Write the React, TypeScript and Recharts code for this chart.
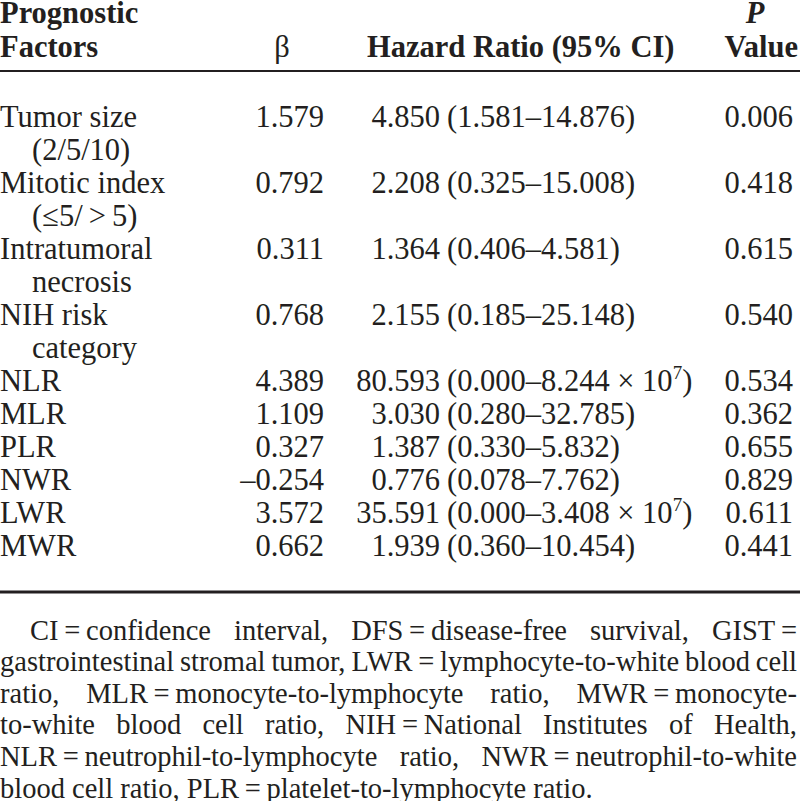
import React from 'react';
import { ScatterChart, Scatter, XAxis, YAxis, ReferenceLine, Customized } from 'recharts';

// ---------- table content ----------
const factorNames = ['Tumor size', 'Mitotic index', 'Intratumoral', 'NIH risk', 'NLR', 'MLR', 'PLR', 'NWR', 'LWR', 'MWR'];
const factorSubLines = ['(2/5/10)', '(\u22645/\u2009>\u20095)', 'necrosis', 'category', '', '', '', '', '', ''];
const betaValues = [1.579, 0.792, 0.311, 0.768, 4.389, 1.109, 0.327, -0.254, 3.572, 0.662];
const hazardRatios = [4.85, 2.208, 1.364, 2.155, 80.593, 3.03, 1.387, 0.776, 35.591, 1.939];
const ciLower = [1.581, 0.325, 0.406, 0.185, 0.0, 0.28, 0.33, 0.078, 0.0, 0.36];
const ciUpper = [14.876, 15.008, 4.581, 25.148, 8.244, 32.785, 5.832, 7.762, 3.408, 10.454];
const ciUpperExponent = [0, 0, 0, 0, 7, 0, 0, 0, 7, 0];
const pValues = [0.006, 0.418, 0.615, 0.54, 0.534, 0.362, 0.655, 0.829, 0.611, 0.441];

const headerFactor = ['Prognostic', 'Factors'];
const headerBeta = '\u03b2';
const headerHR = 'Hazard Ratio (95% CI)';
const headerP = ['P', 'Value'];

const footnoteLines = [
  'CI\u2009=\u2009confidence interval, DFS\u2009=\u2009disease-free survival, GIST\u2009=',
  'gastrointestinal stromal tumor, LWR\u2009=\u2009lymphocyte-to-white blood cell',
  'ratio, MLR\u2009=\u2009monocyte-to-lymphocyte ratio, MWR\u2009=\u2009monocyte-',
  'to-white blood cell ratio, NIH\u2009=\u2009National Institutes of Health,',
  'NLR\u2009=\u2009neutrophil-to-lymphocyte ratio, NWR\u2009=\u2009neutrophil-to-white',
  'blood cell ratio, PLR\u2009=\u2009platelet-to-lymphocyte ratio.',
];

// ---------- layout / style ----------
const W = 800;
const H = 801;
const FONT = "'Liberation Serif', 'Times New Roman', Times, serif";
const INK = '#231f20';
const BODY_SIZE = 30.5;
const FOOT_SIZE = 28.5;
const BODY_TOP = 127; // baseline of first body line (px)
const PITCH = 33; // body line pitch (px)
const COL = { indent: 32, beta: 324, hr: 440, ci: 447, p: 793 };
const HEAD = { line1: 23, line2: 57, betaX: 282, hrX: 367, pX: 755, valueX: 798 };
const RULE_TOP = 71;
const RULE_BOTTOM = 592;
const FOOT = { first: 639.5, pitch: 31.6, indent: 30, right: 797 };

const toLine = (px: number) => (px - BODY_TOP) / PITCH;

const fmt = (v: number) => (v < 0 ? '\u2013' + Math.abs(v).toFixed(3) : v.toFixed(3));

// build table rows (line index = position on the y axis, in text lines)
const rows: any[] = [];
const subRows: any[] = [];
{
  let line = 0;
  factorNames.forEach((name, i) => {
    rows.push({
      x: 0,
      y: line,
      factor: name,
      beta: fmt(betaValues[i]),
      hr: fmt(hazardRatios[i]),
      lo: fmt(ciLower[i]),
      hi: fmt(ciUpper[i]),
      exp: ciUpperExponent[i],
      p: fmt(pValues[i]),
    });
    if (factorSubLines[i]) {
      subRows.push({ x: 0, y: line + 1, text: factorSubLines[i] });
      line += 2;
    } else {
      line += 1;
    }
  });
}

let ctx: CanvasRenderingContext2D | null = null;
function measure(text: string, font: string) {
  if (!ctx) ctx = document.createElement('canvas').getContext('2d');
  if (!ctx) return text.length * 12;
  ctx.font = font;
  return ctx.measureText(text).width;
}

const textProps = {
  fontFamily: FONT,
  fill: INK,
};

const RowShape = (props: any) => {
  const { cx, cy, payload } = props;
  return (
    <g>
      <text {...textProps} fontSize={BODY_SIZE} x={cx} y={cy}>{payload.factor}</text>
      <text {...textProps} fontSize={BODY_SIZE} x={COL.beta} y={cy} textAnchor="end">{payload.beta}</text>
      <text {...textProps} fontSize={BODY_SIZE} x={COL.hr} y={cy} textAnchor="end">{payload.hr}</text>
      <text {...textProps} fontSize={BODY_SIZE} x={COL.ci} y={cy}>
        {'(' + payload.lo + '\u2013' + payload.hi}
        {payload.exp ? (
          <>
            <tspan>{' \u00d7 10'}</tspan>
            <tspan dy={-12} fontSize={19}>{String(payload.exp)}</tspan>
            <tspan dy={12}>)</tspan>
          </>
        ) : (
          ')'
        )}
      </text>
      <text {...textProps} fontSize={BODY_SIZE} x={COL.p} y={cy} textAnchor="end">{payload.p}</text>
    </g>
  );
};

const SubShape = (props: any) => {
  const { cx, cy, payload } = props;
  return (
    <text {...textProps} fontSize={BODY_SIZE} x={cx + COL.indent} y={cy}>{payload.text}</text>
  );
};

const JustifiedLine = ({ text, y, left, right, justify }: any) => {
  const font = `${FOOT_SIZE}px ${FONT}`;
  if (!justify) {
    return (
      <text {...textProps} fontSize={FOOT_SIZE} x={left} y={y} style={{ whiteSpace: 'pre' }}>{text}</text>
    );
  }
  const words = text.split(' ');
  const widths = words.map((w: string) => measure(w, font));
  const total = widths.reduce((a: number, b: number) => a + b, 0);
  const gap = words.length > 1 ? (right - left - total) / (words.length - 1) : 0;
  let x = left;
  const xs = widths.map((w: number) => {
    const cur = x;
    x += w + gap;
    return cur;
  });
  return (
    <text {...textProps} fontSize={FOOT_SIZE} y={y}>
      {words.map((w: string, i: number) => (
        <tspan key={i} x={xs[i]}>{w}</tspan>
      ))}
    </text>
  );
};

const HeaderAndNotes = () => (
  <g>
    <text {...textProps} fontSize={BODY_SIZE} fontWeight="bold" x={0} y={HEAD.line1}>{headerFactor[0]}</text>
    <text {...textProps} fontSize={BODY_SIZE} fontWeight="bold" x={0} y={HEAD.line2}>{headerFactor[1]}</text>
    <text {...textProps} fontSize={BODY_SIZE} x={HEAD.betaX} y={HEAD.line2} textAnchor="middle">{headerBeta}</text>
    <text {...textProps} fontSize={BODY_SIZE} fontWeight="bold" x={HEAD.hrX} y={HEAD.line2} style={{ whiteSpace: 'pre' }}>{headerHR}</text>
    <text {...textProps} fontSize={BODY_SIZE} fontWeight="bold" fontStyle="italic" x={HEAD.pX} y={HEAD.line1} textAnchor="middle">{headerP[0]}</text>
    <text {...textProps} fontSize={BODY_SIZE} fontWeight="bold" x={HEAD.valueX} y={HEAD.line2} textAnchor="end">{headerP[1]}</text>
    {footnoteLines.map((t, i) => (
      <JustifiedLine
        key={i}
        text={t}
        y={FOOT.first + i * FOOT.pitch}
        left={i === 0 ? FOOT.indent : 0}
        right={FOOT.right}
        justify={i < footnoteLines.length - 1}
      />
    ))}
  </g>
);

export default function App() {
  return (
    <div style={{ position: 'absolute', left: 0, top: 0, width: W, height: H, background: '#ffffff' }}>
      <ScatterChart width={W} height={H} margin={{ top: 0, right: 0, bottom: 0, left: 0 }}>
        <XAxis type="number" dataKey="x" domain={[0, W]} hide allowDataOverflow />
        <YAxis type="number" dataKey="y" domain={[toLine(0), toLine(H)]} reversed hide allowDataOverflow />
        <ReferenceLine y={toLine(RULE_TOP)} stroke={INK} strokeWidth={2} ifOverflow="visible" />
        <ReferenceLine y={toLine(RULE_BOTTOM)} stroke={INK} strokeWidth={3} ifOverflow="visible" />
        <Scatter data={rows} shape={RowShape} isAnimationActive={false} />
        <Scatter data={subRows} shape={SubShape} isAnimationActive={false} />
        <Customized component={HeaderAndNotes} />
      </ScatterChart>
    </div>
  );
}
